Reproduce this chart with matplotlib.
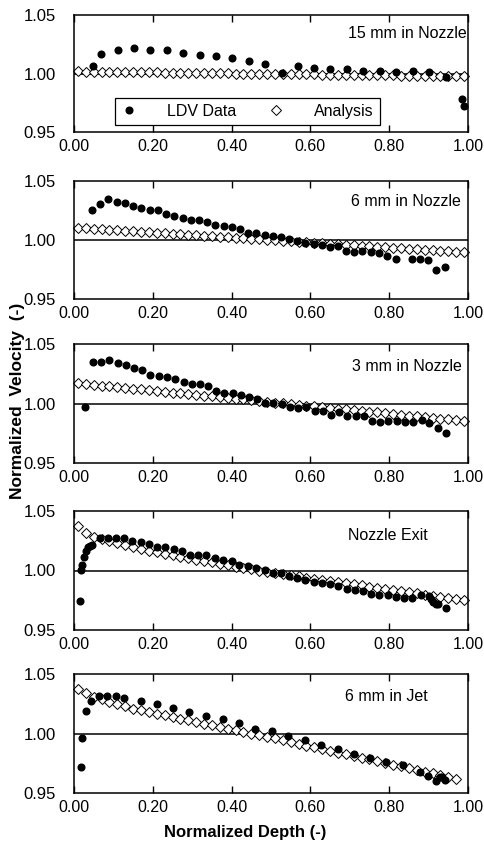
import matplotlib
matplotlib.use("Agg")
import matplotlib.pyplot as plt

plt.rcParams['font.family'] = ['Liberation Sans', 'DejaVu Sans']

panel_titles = ["15 mm in Nozzle", "6 mm in Nozzle", "3 mm in Nozzle", "Nozzle Exit", "6 mm in Jet"]
x_ticks = [0.0, 0.2, 0.4, 0.6, 0.8, 1.0]
x_tick_labels = ["0.00", "0.20", "0.40", "0.60", "0.80", "1.00"]
y_ticks = [0.95, 1.00, 1.05]
y_tick_labels = ["0.95", "1.00", "1.05"]

# LDV data
ldv1_x = [0.047, 0.069, 0.111, 0.153, 0.194, 0.236, 0.277, 0.319, 0.360, 0.402, 0.443, 0.484, 0.527,
          0.568, 0.609, 0.651, 0.692, 0.734, 0.776, 0.818, 0.860, 0.901, 0.943, 0.985, 0.990]
ldv1_y = [1.0066, 1.0163, 1.0200, 1.0217, 1.0200, 1.0200, 1.0174, 1.0154, 1.0151, 1.0129, 1.0109, 1.0083,
          1.0003, 1.0066, 1.0043, 1.0040, 1.0037, 1.0023, 1.0023, 1.0011, 1.0020, 1.0011, 0.9969, 0.9786, 0.9726]

ldv2_x = [0.046, 0.067, 0.087, 0.108, 0.129, 0.150, 0.171, 0.192, 0.213, 0.234, 0.255, 0.276, 0.296, 0.317,
          0.338, 0.359, 0.380, 0.400, 0.421, 0.442, 0.462, 0.484, 0.505, 0.525, 0.546, 0.566, 0.587, 0.608,
          0.629, 0.650, 0.670, 0.691, 0.711, 0.732, 0.753, 0.774, 0.795, 0.816, 0.857, 0.878, 0.899, 0.920, 0.941]
ldv2_y = [1.0253, 1.0309, 1.0345, 1.0326, 1.0315, 1.0292, 1.0272, 1.0253, 1.0258, 1.0222, 1.0205, 1.0188,
          1.0171, 1.0169, 1.0154, 1.0129, 1.0115, 1.0110, 1.0090, 1.0062, 1.0062, 1.0042, 1.0031, 1.0028,
          1.0006, 0.9992, 0.9978, 0.9966, 0.9958, 0.9944, 0.9947, 0.9907, 0.9902, 0.9904, 0.9902, 0.9888,
          0.9868, 0.9840, 0.9840, 0.9840, 0.9834, 0.9742, 0.9767]

ldv3_x = [0.027, 0.047, 0.068, 0.089, 0.111, 0.132, 0.153, 0.173, 0.194, 0.215, 0.235, 0.257, 0.278, 0.299,
          0.319, 0.340, 0.360, 0.381, 0.403, 0.423, 0.444, 0.465, 0.485, 0.506, 0.527, 0.548, 0.569, 0.590,
          0.611, 0.631, 0.652, 0.673, 0.694, 0.715, 0.735, 0.756, 0.777, 0.798, 0.819, 0.840, 0.861, 0.882,
          0.902, 0.923, 0.944]
ldv3_y = [0.9972, 1.0346, 1.0351, 1.0368, 1.0343, 1.0320, 1.0298, 1.0284, 1.0242, 1.0230, 1.0219, 1.0205,
          1.0177, 1.0163, 1.0163, 1.0146, 1.0107, 1.0090, 1.0090, 1.0070, 1.0056, 1.0034, 1.0003, 1.0003,
          0.9994, 0.9972, 0.9961, 0.9972, 0.9941, 0.9941, 0.9907, 0.9930, 0.9896, 0.9899, 0.9893, 0.9857,
          0.9843, 0.9851, 0.9854, 0.9848, 0.9846, 0.9862, 0.9834, 0.9798, 0.9750]

ldv4_x = [0.014, 0.017, 0.021, 0.025, 0.031, 0.036, 0.041, 0.046, 0.066, 0.086, 0.107, 0.128, 0.148, 0.169,
          0.190, 0.211, 0.232, 0.253, 0.275, 0.295, 0.315, 0.336, 0.358, 0.379, 0.400, 0.420, 0.442, 0.463,
          0.484, 0.504, 0.525, 0.546, 0.567, 0.587, 0.608, 0.629, 0.649, 0.670, 0.692, 0.712, 0.733, 0.754,
          0.775, 0.796, 0.817, 0.838, 0.859, 0.880, 0.901, 0.905, 0.911, 0.918, 0.924, 0.943]
ldv4_y = [0.9740, 1.0003, 1.0045, 1.0112, 1.0162, 1.0196, 1.0210, 1.0212, 1.0271, 1.0271, 1.0277, 1.0271,
          1.0246, 1.0237, 1.0221, 1.0198, 1.0196, 1.0182, 1.0168, 1.0134, 1.0128, 1.0128, 1.0109, 1.0092,
          1.0078, 1.0050, 1.0039, 1.0022, 1.0003, 0.9980, 0.9975, 0.9950, 0.9936, 0.9922, 0.9902, 0.9897,
          0.9888, 0.9872, 0.9841, 0.9835, 0.9827, 0.9802, 0.9793, 0.9790, 0.9774, 0.9771, 0.9771, 0.9796,
          0.9782, 0.9757, 0.9732, 0.9721, 0.9721, 0.9684]

ldv5_x = [0.017, 0.021, 0.030, 0.043, 0.064, 0.085, 0.106, 0.127, 0.169, 0.210, 0.252, 0.293, 0.335, 0.377,
          0.419, 0.460, 0.502, 0.544, 0.586, 0.627, 0.669, 0.710, 0.752, 0.793, 0.836, 0.877, 0.898, 0.919,
          0.928, 0.935, 0.941]
ldv5_y = [0.9718, 0.9964, 1.0193, 1.0271, 1.0313, 1.0318, 1.0318, 1.0296, 1.0274, 1.0249, 1.0215, 1.0179,
          1.0148, 1.0123, 1.0087, 1.0036, 1.0017, 0.9975, 0.9944, 0.9905, 0.9872, 0.9830, 0.9790, 0.9763,
          0.9732, 0.9679, 0.9645, 0.9603, 0.9637, 0.9637, 0.9606]

# Analysis
ana_x = [0.01, 0.03, 0.05, 0.07, 0.09, 0.11, 0.13, 0.15, 0.17, 0.19, 0.21, 0.23, 0.25, 0.27, 0.29, 0.31,
         0.33, 0.35, 0.37, 0.39, 0.41, 0.43, 0.45, 0.47, 0.49, 0.51, 0.53, 0.55, 0.57, 0.59, 0.61, 0.63,
         0.65, 0.67, 0.69, 0.71, 0.73, 0.75, 0.77, 0.79, 0.81, 0.83, 0.85, 0.87, 0.89, 0.91, 0.93, 0.95,
         0.97, 0.99]
ana1_y = [1.0018, 1.0017, 1.0016, 1.0015, 1.0014, 1.0014, 1.0013, 1.0012, 1.0011, 1.0010, 1.0009, 1.0008,
          1.0007, 1.0007, 1.0006, 1.0005, 1.0004, 1.0003, 1.0002, 1.0001, 1.0000, 1.0000, 0.9999, 0.9998,
          0.9997, 0.9996, 0.9995, 0.9994, 0.9993, 0.9993, 0.9992, 0.9991, 0.9990, 0.9989, 0.9988, 0.9987,
          0.9986, 0.9986, 0.9985, 0.9984, 0.9983, 0.9982, 0.9981, 0.9980, 0.9979, 0.9979, 0.9978, 0.9977,
          0.9976, 0.9975]
ana2_y = [1.0105, 1.0101, 1.0096, 1.0092, 1.0088, 1.0084, 1.0079, 1.0075, 1.0071, 1.0067, 1.0062, 1.0058,
          1.0054, 1.0050, 1.0045, 1.0041, 1.0037, 1.0033, 1.0028, 1.0024, 1.0020, 1.0016, 1.0011, 1.0007,
          1.0003, 0.9999, 0.9994, 0.9990, 0.9986, 0.9982, 0.9977, 0.9973, 0.9969, 0.9965, 0.9960, 0.9956,
          0.9952, 0.9948, 0.9943, 0.9939, 0.9935, 0.9931, 0.9926, 0.9922, 0.9918, 0.9914, 0.9909, 0.9905,
          0.9901, 0.9897]
ana3_y = [1.0169, 1.0163, 1.0156, 1.0150, 1.0143, 1.0137, 1.0130, 1.0124, 1.0118, 1.0111, 1.0105, 1.0098,
          1.0092, 1.0085, 1.0079, 1.0073, 1.0066, 1.0060, 1.0053, 1.0047, 1.0040, 1.0034, 1.0027, 1.0021,
          1.0015, 1.0008, 1.0002, 0.9995, 0.9989, 0.9982, 0.9976, 0.9970, 0.9963, 0.9957, 0.9950, 0.9944,
          0.9937, 0.9931, 0.9925, 0.9918, 0.9912, 0.9905, 0.9899, 0.9892, 0.9886, 0.9879, 0.9873, 0.9867,
          0.9860, 0.9854]
ana4_y = [1.0372, 1.0316, 1.0283, 1.0262, 1.0244, 1.0227, 1.0211, 1.0195, 1.0180, 1.0166, 1.0153, 1.0140,
          1.0128, 1.0116, 1.0104, 1.0092, 1.0080, 1.0068, 1.0056, 1.0044, 1.0032, 1.0021, 1.0010, 0.9999,
          0.9989, 0.9979, 0.9969, 0.9960, 0.9950, 0.9941, 0.9931, 0.9922, 0.9912, 0.9903, 0.9893, 0.9884,
          0.9874, 0.9865, 0.9855, 0.9846, 0.9836, 0.9827, 0.9817, 0.9808, 0.9798, 0.9789, 0.9779, 0.9770,
          0.9760, 0.9751]
ana5_y = [1.0370, 1.0338, 1.0310, 1.0287, 1.0265, 1.0245, 1.0227, 1.0210, 1.0195, 1.0181, 1.0167, 1.0153,
          1.0139, 1.0125, 1.0111, 1.0097, 1.0084, 1.0070, 1.0056, 1.0042, 1.0028, 1.0014, 1.0000, 0.9986,
          0.9972, 0.9958, 0.9943, 0.9928, 0.9914, 0.9899, 0.9884, 0.9870, 0.9855, 0.9840, 0.9826, 0.9811,
          0.9796, 0.9782, 0.9767, 0.9752, 0.9738, 0.9723, 0.9708, 0.9694, 0.9679, 0.9664, 0.9650, 0.9635,
          0.9620]

ldv_sets = [(ldv1_x, ldv1_y), (ldv2_x, ldv2_y), (ldv3_x, ldv3_y), (ldv4_x, ldv4_y), (ldv5_x, ldv5_y)]
ana_sets = [ana1_y, ana2_y, ana3_y, ana4_y, ana5_y]

W, H = 485, 843
fig = plt.figure(figsize=(W / 100, H / 100), dpi=100)

# axes boxes in pixels (top, bottom)
boxes = [(15, 132), (181, 299), (344, 463), (511, 630), (674, 793)]
left_px, right_px = 74, 468
title_pos = [(0.997, 0.846), (0.982, 0.825), (0.984, 0.81), (0.898, 0.798), (0.898, 0.815)]

axes = []
for i, (t, b) in enumerate(boxes):
    ax = fig.add_axes([left_px / W, 1 - b / H, (right_px - left_px) / W, (b - t) / H])
    axes.append(ax)
    ax.axhline(1.0, color='black', lw=1.1, zorder=1)
    ay = ana_sets[i]
    ax.plot(ana_x[:len(ay)], ay, linestyle='none', marker='D', markersize=5.0,
            markerfacecolor='white', markeredgecolor='black', markeredgewidth=0.7,
            zorder=2, label='Analysis', clip_on=False)
    lx, ly = ldv_sets[i]
    ax.plot(lx, ly, linestyle='none', marker='o', markersize=4.8, color='black',
            zorder=3, label='LDV Data', clip_on=False)
    ax.set_xlim(0, 1)
    ax.set_ylim(0.95, 1.05)
    ax.set_xticks(x_ticks)
    ax.set_xticklabels(x_tick_labels, fontsize=11.5)
    ax.set_yticks(y_ticks)
    ax.set_yticklabels(y_tick_labels, fontsize=12)
    ax.tick_params(axis='x', direction='in', top=True, bottom=True, length=5, width=1.0, pad=5)
    ax.tick_params(axis='y', direction='in', left=True, right=False, length=0, pad=13)
    for s in ax.spines.values():
        s.set_linewidth(1.1)
    ax.text(title_pos[i][0], title_pos[i][1], panel_titles[i], transform=ax.transAxes,
            ha='right', va='center', fontsize=11.5)

# Legend in the first panel
h, l = axes[0].get_legend_handles_labels()
leg = axes[0].legend([h[1], h[0]], [l[1], l[0]], ncol=2, loc='center',
                     bbox_to_anchor=(0.44, 0.175), fontsize=11.5, frameon=True, fancybox=False,
                     edgecolor='black', handlelength=1.0, handletextpad=1.9, columnspacing=2.0,
                     borderpad=0.35, framealpha=1)
leg.get_frame().set_linewidth(0.9)

fig.text(0.036, 1 - 401 / H, "Normalized  Velocity  (-)", rotation=90, ha='center', va='center',
         fontsize=12.5, fontweight='bold')
fig.text(0.505, 1 - 833 / H, "Normalized Depth (-)", ha='center', va='center',
         fontsize=12, fontweight='bold')

fig.savefig("out.png", dpi=100)
